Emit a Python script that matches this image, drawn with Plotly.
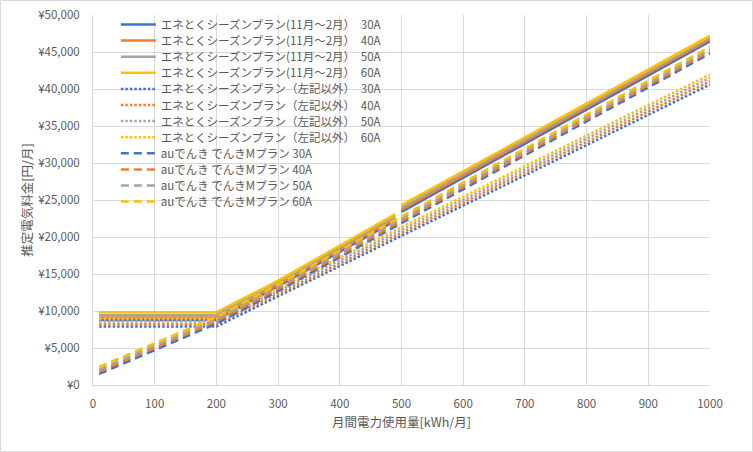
import plotly.graph_objects as go

# ---- data ----
usage_winter = [10, 200, 300, 490, None, 500, 1000]
winter_30A = [8800, 8800, 13350, 22200, None, 23400, 46450]
winter_40A = [9130, 9130, 13600, 22500, None, 23700, 46700]
winter_50A = [9470, 9470, 13850, 22800, None, 24000, 46950]
winter_60A = [9820, 9820, 14100, 23100, None, 24300, 47200]

usage_other = [10, 200, 1000]
other_30A = [7900, 7900, 40600]
other_40A = [8250, 8250, 41050]
other_50A = [8600, 8600, 41500]
other_60A = [8950, 8950, 41950]

usage_au = [10, 200, 300, 1000]
au_30A = [1500, 8300, 12700, 44800]
au_40A = [1800, 8600, 13000, 45100]
au_50A = [2100, 8900, 13300, 45400]
au_60A = [2450, 9200, 13600, 45700]

amps = ["30A", "40A", "50A", "60A"]
colors = ["#4472C4", "#ED7D31", "#A5A5A5", "#FFC000"]

x_ticks = list(range(0, 1001, 100))
y_ticks = list(range(0, 50001, 5000))
y_labels = ["¥{:,}".format(v) for v in y_ticks]

FONT = "Noto Sans CJK JP"
TXT = "#595959"
GRID = "#D9D9D9"

fig = go.Figure()

for a, c, ys in zip(amps, colors, [winter_30A, winter_40A, winter_50A, winter_60A]):
    fig.add_trace(go.Scatter(x=usage_winter, y=ys, mode="lines", connectgaps=False,
                             name=f"エネとくシーズンプラン(11月～2月）　{a}",
                             line=dict(color=c, width=2.5)))
for a, c, ys in zip(amps, colors, [other_30A, other_40A, other_50A, other_60A]):
    fig.add_trace(go.Scatter(x=usage_other, y=ys, mode="lines",
                             name=f"エネとくシーズンプラン（左記以外）　{a}",
                             line=dict(color=c, width=2.5, dash="2.5px,2px")))
for a, c, ys in zip(amps, colors, [au_30A, au_40A, au_50A, au_60A]):
    fig.add_trace(go.Scatter(x=usage_au, y=ys, mode="lines",
                             name=f"auでんき でんきMプラン {a}",
                             line=dict(color=c, width=2.5, dash="8px,5px")))

fig.update_layout(
    width=753, height=452,
    margin=dict(l=93, r=43, t=15, b=67, autoexpand=False),
    paper_bgcolor="white", plot_bgcolor="white",
    font=dict(family=FONT, color=TXT, size=11),
    showlegend=True,
    legend=dict(x=0.037, y=1.0135, xanchor="left", yanchor="top",
                bgcolor="rgba(255,255,255,0)", borderwidth=0,
                font=dict(family=FONT, size=11.5, color=TXT),
                tracegroupgap=0, maxheight=420, itemwidth=35),
    xaxis=dict(range=[0, 1000], tickvals=x_ticks, showgrid=True, gridcolor=GRID,
               gridwidth=1, showline=True, linecolor=GRID, linewidth=1,
               zeroline=False, ticks="", ticklabelstandoff=8,
               tickfont=dict(size=11.5, color=TXT),
               title=dict(text="月間電力使用量[kWh/月]", standoff=8,
                          font=dict(size=12.5, color=TXT))),
    yaxis=dict(range=[0, 50000], tickvals=y_ticks, ticktext=y_labels,
               showgrid=True, gridcolor=GRID, gridwidth=1, showline=True,
               linecolor=GRID, linewidth=1, zeroline=False, ticks="",
               ticklabelstandoff=10, tickfont=dict(size=11.5, color=TXT),
               title=dict(text="推定電気料金[円/月]", standoff=2,
                          font=dict(size=12.5, color=TXT))),
    shapes=[
        # white legend backdrop (above grid, below data)
        dict(type="rect", xref="paper", yref="paper", x0=0.011, x1=0.49,
             y0=0.473, y1=0.997, fillcolor="white", line=dict(width=0),
             layer="between"),
        # outer chart border
        dict(type="rect", xref="paper", yref="paper", x0=-0.1499, x1=1.0689,
             y0=-0.1797, y1=1.0392, line=dict(color=GRID, width=1),
             fillcolor="rgba(0,0,0,0)", layer="above"),
    ],
)

post = """
document.body.style.margin='0';
document.body.style.overflow='hidden';
var tr = document.querySelectorAll('.legend .traces');
var y0 = null;
tr.forEach(function(t, i){
  var m = /translate\\(\\s*([-\\d.eE]+)[ ,]+([-\\d.eE]+)\\s*\\)/.exec(t.getAttribute('transform') || '');
  if(!m) return;
  var x = parseFloat(m[1]), y = parseFloat(m[2]);
  if(y0 === null) y0 = y;
  t.setAttribute('transform', 'translate(' + x + ',' + (y0 + i * 16.1) + ')');
});
"""

fig.write_html("out.html", post_script=post, config={"displayModeBar": False})
